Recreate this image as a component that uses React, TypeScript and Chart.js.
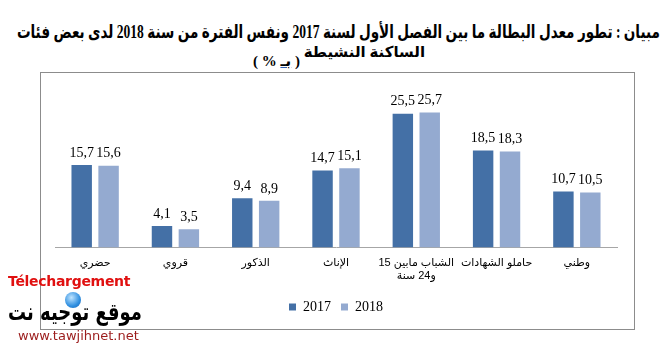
import React, { useEffect, useLayoutEffect, useRef } from "react";
import { Chart, registerables } from "chart.js";

Chart.register(...registerables);

const categories: (string | string[])[] = [
  "حضري",
  "قروي",
  "الذكور",
  "الإناث",
  ["الشباب مابين 15", "و24 سنة"],
  "حاملو الشهادات",
  "وطني",
];
const series2017 = [15.7, 4.1, 9.4, 14.7, 25.5, 18.5, 10.7];
const series2018 = [15.6, 3.5, 8.9, 15.1, 25.7, 18.3, 10.5];
const seriesLabels = ["2017", "2018"];
const yMax = 30;

const titleLine1 = "مبيان :  تطور معدل البطالة ما بين الفصل الأول لسنة 2017 ونفس الفترة من سنة 2018 لدى بعض فئات";
const titleLine2 = "الساكنة النشيطة";

const COLOR_2017 = "#4470a6";
const COLOR_2018 = "#94aad0";

const dataLabelPlugin = {
  id: "dataLabels",
  afterDatasetsDraw(chart: any) {
    const ctx = chart.ctx;
    ctx.save();
    ctx.direction = "ltr";
    ctx.font = '14px "Liberation Serif", serif';
    ctx.fillStyle = "#000";
    ctx.textAlign = "center";
    ctx.textBaseline = "bottom";
    chart.data.datasets.forEach((ds: any, i: number) => {
      const meta = chart.getDatasetMeta(i);
      meta.data.forEach((el: any, j: number) => {
        const v = ds.data[j] as number;
        ctx.fillText(v.toFixed(1).replace(".", ","), el.x, el.y - 5);
      });
    });
    ctx.restore();
  },
};

const rtlPlugin = {
  id: "rtlText",
  beforeDraw(chart: any) {
    chart.ctx.direction = "rtl";
  },
};

function useFit(ref: React.RefObject<HTMLElement | null>, target: number, origin: string) {
  useLayoutEffect(() => {
    const el = ref.current;
    if (!el) return;
    const w = el.getBoundingClientRect().width;
    if (w > 0) {
      el.style.transform = `scaleX(${target / w})`;
      el.style.transformOrigin = origin;
    }
  }, []);
}

export default function App() {
  const canvasRef = useRef<HTMLCanvasElement | null>(null);
  const line1Ref = useRef<HTMLDivElement | null>(null);
  const brandRef = useRef<HTMLDivElement | null>(null);

  useFit(line1Ref, 643, "right center");
  useFit(brandRef, 134, "left center");

  useEffect(() => {
    if (!canvasRef.current) return;
    const chart = new Chart(canvasRef.current, {
      type: "bar",
      data: {
        labels: categories,
        datasets: [
          {
            label: seriesLabels[0],
            data: series2017,
            backgroundColor: COLOR_2017,
            categoryPercentage: 0.67,
            barPercentage: 0.76,
          },
          {
            label: seriesLabels[1],
            data: series2018,
            backgroundColor: COLOR_2018,
            categoryPercentage: 0.67,
            barPercentage: 0.76,
          },
        ],
      },
      options: {
        animation: false,
        responsive: true,
        maintainAspectRatio: false,
        layout: { padding: { left: 14, right: 17, top: 17, bottom: 5 } },
        scales: {
          x: {
            grid: { display: false },
            border: { display: true, color: "#a6a6a6", width: 1 },
            ticks: {
              color: "#000",
              font: { family: '"Liberation Sans", "DejaVu Sans", sans-serif', size: 11 },
              padding: 1,
              maxRotation: 0,
              autoSkip: false,
            },
            afterFit(scale: any) {
              scale.height += 6;
            },
          },
          y: { display: false, min: 0, max: yMax },
        },
        plugins: {
          legend: {
            position: "bottom",
            labels: {
              boxWidth: 7,
              boxHeight: 7,
              color: "#000",
              padding: 10,
              font: { family: '"Liberation Serif", serif', size: 14 },
            },
          },
          tooltip: { enabled: false },
        },
      },
      plugins: [rtlPlugin, dataLabelPlugin],
    });
    return () => chart.destroy();
  }, []);

  return (
    <div style={{ position: "relative", width: 669, height: 352, margin: -8, background: "#fff", overflow: "hidden" }}>
      <div
        style={{
          position: "absolute",
          right: 9,
          top: 21,
        }}
      >
        <div
          ref={line1Ref}
          dir="rtl"
          style={{
            display: "inline-block",
            whiteSpace: "nowrap",
            fontFamily: '"Liberation Serif", "DejaVu Sans", serif',
            fontWeight: "bold",
            fontSize: 18,
            lineHeight: "22px",
            color: "#000",
          }}
        >
          {titleLine1}
        </div>
      </div>
      <div
        dir="rtl"
        style={{
          position: "absolute",
          left: 0,
          width: 678,
          top: 42,
          textAlign: "center",
          whiteSpace: "nowrap",
          fontFamily: '"Liberation Serif", "DejaVu Sans", serif',
          fontWeight: "bold",
          fontSize: 15,
          lineHeight: "20px",
          color: "#000",
        }}
      >
        {titleLine2}{" "}
        <span style={{ position: "relative", top: 9 }}>
          ({" "}
          <span style={{ textDecoration: "underline", textDecorationColor: "#2f5fb3" }}>بـ</span> %{" "})
        </span>
      </div>
      <div
        style={{
          position: "absolute",
          left: 40,
          top: 72,
          width: 595,
          height: 258,
          border: "1px solid #8c8c8c",
          boxSizing: "border-box",
        }}
      >
        <canvas ref={canvasRef} dir="rtl" />
      </div>
      <div
        style={{
          position: "absolute",
          left: 8,
          top: 273,
          fontFamily: '"DejaVu Sans", sans-serif',
          fontWeight: "bold",
          fontSize: 14,
          color: "#e01010",
          letterSpacing: -0.3,
        }}
      >
        Télechargement
      </div>
      <div
        style={{
          position: "absolute",
          left: 65,
          top: 292,
          width: 16,
          height: 16,
          borderRadius: 8,
          background: "radial-gradient(circle at 40% 35%, #bfe4ff, #2f8fe0 60%, #1d62b0)",
        }}
      />
      <div style={{ position: "absolute", left: 8, top: 297 }}>
        <div
          ref={brandRef}
          dir="rtl"
          style={{
            display: "inline-block",
            fontFamily: '"DejaVu Sans", sans-serif',
            fontWeight: "bold",
            fontSize: 24,
            lineHeight: "30px",
            color: "#000",
            whiteSpace: "nowrap",
          }}
        >
          موقع توجيه نت
        </div>
      </div>
      <div
        style={{
          position: "absolute",
          left: 18,
          top: 328,
          fontFamily: '"DejaVu Sans", sans-serif',
          fontSize: 13,
          color: "#9b1b1b",
        }}
      >
        www.tawjihnet.net
      </div>
    </div>
  );
}
